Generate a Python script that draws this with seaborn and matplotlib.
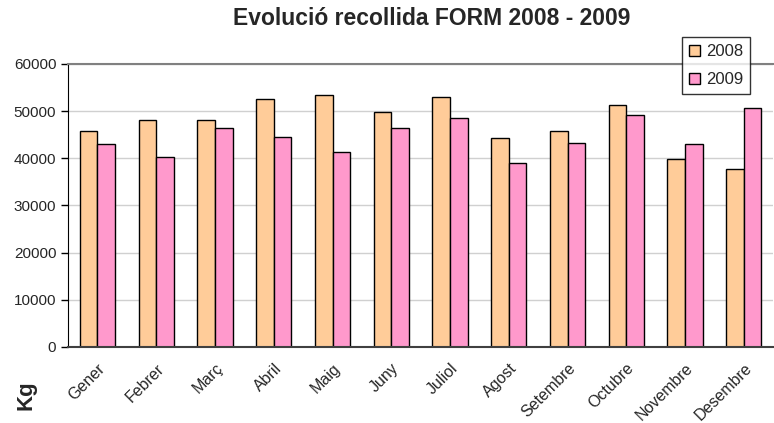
import matplotlib
matplotlib.use("Agg")
import matplotlib.pyplot as plt
import matplotlib.transforms as mtransforms
import seaborn as sns
import pandas as pd
import numpy as np

months = ["Gener", "Febrer", "Març", "Abril", "Maig", "Juny", "Juliol",
          "Agost", "Setembre", "Octubre", "Novembre", "Desembre"]
kg_2008 = [45800, 48200, 48200, 52500, 53500, 49800, 52900,
           44200, 45800, 51300, 39900, 37700]
kg_2009 = [43000, 40200, 46400, 44500, 41400, 46400, 48500,
           38900, 43300, 49100, 43000, 50700]
years = ["2008", "2009"]
y_ticks = [0, 10000, 20000, 30000, 40000, 50000, 60000]

df = pd.DataFrame({
    "mes": months * 2,
    "kg": kg_2008 + kg_2009,
    "any": [years[0]] * len(months) + [years[1]] * len(months),
})

sns.set_style("white")
plt.rcParams["font.family"] = ["Liberation Sans", "DejaVu Sans"]

fig = plt.figure(figsize=(7.74, 4.23), dpi=100)
ax = fig.add_axes([0.088, 0.18, 0.911, 0.669])

sns.barplot(data=df, x="mes", y="kg", hue="any", order=months,
            palette=["#FFCC99", "#FF99CC"], width=0.6,
            edgecolor="black", linewidth=1, saturation=1, ax=ax)

ax.set_ylim(0, 60000)
ax.set_xlim(-0.5, len(months) - 0.5)
ax.set_yticks(y_ticks)
ax.set_yticklabels([str(v) for v in y_ticks], fontsize=11)
ax.yaxis.grid(True, color="#d0d0d0", linewidth=1)
ax.set_axisbelow(True)

ax.set_xticks(range(len(months)))
ax.set_xticklabels(months, rotation=45, ha="right", rotation_mode="anchor", fontsize=11.5)
# nudge the rotated month labels to sit like the original
shift = mtransforms.ScaledTranslation(-13 / 100, -2 / 100, fig.dpi_scale_trans)
for lbl in ax.get_xticklabels():
    lbl.set_transform(lbl.get_transform() + shift)
ax.set_xticks(np.arange(-0.5, len(months), 1), minor=True)
ax.tick_params(axis="x", which="major", length=0, pad=10)
ax.tick_params(axis="x", which="minor", length=8, direction="inout", color="#404040", width=1)
ax.tick_params(axis="y", which="major", length=5, direction="out", color="black", width=1, left=True)

ax.set_xlabel("")
ax.set_ylabel("")
ax.spines["right"].set_visible(False)
ax.spines["top"].set_color("#808080")
ax.spines["top"].set_linewidth(1.5)
ax.spines["left"].set_color("black")
ax.spines["bottom"].set_color("#404040")
ax.spines["bottom"].set_linewidth(1.5)

leg = ax.legend(loc="upper left", bbox_to_anchor=(0.871, 1.095), fontsize=12,
                frameon=True, fancybox=False, edgecolor="black",
                handlelength=0.65, handleheight=0.65, handletextpad=0.35,
                borderpad=0.42, labelspacing=0.8, borderaxespad=0)
leg.get_frame().set_linewidth(1)

fig.text(0.558, 0.957, "Evolució recollida FORM 2008 - 2009",
         ha="center", va="center", fontsize=16.5, fontweight="bold")
fig.text(0.034, 0.03, "Kg", rotation=90, ha="center", va="bottom",
         fontsize=16, fontweight="bold")

fig.savefig("out.png", dpi=100)
